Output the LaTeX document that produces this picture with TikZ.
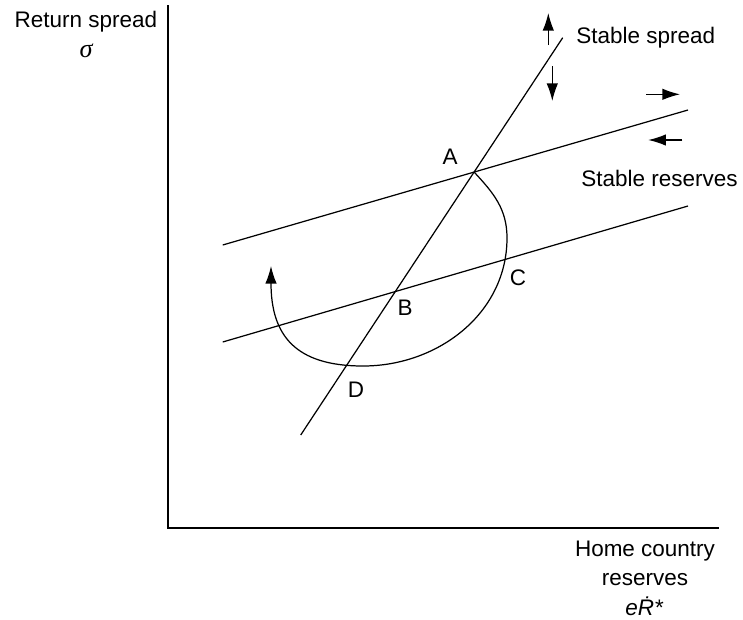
\documentclass[tikz,border=0pt]{standalone}
\usepackage{fontspec}
\setmainfont{Liberation Sans}
\newfontfamily\symbolfont{Liberation Serif}
\usetikzlibrary{arrows.meta}

\begin{document}
\begin{tikzpicture}[x=0.02cm, y=-0.02cm,
  every node/.style={font=\fontsize{12.8}{15}\selectfont, inner sep=0pt},
  axis/.style={line width=1.1pt},
  schedule/.style={line width=0.7pt},
  move/.style={-{Latex[length=10pt,width=6.5pt]}, line width=0.7pt}]
  \useasboundingbox (0,0) rectangle (743,619);
  % axes
  \coordinate (top) at (168.3,5);
  \coordinate (origin) at (168.3,527.7);
  \coordinate (right) at (719,527.7);
  \draw[axis] (top) -- (origin) -- (right);
  \node (ylab) at (86,22) {Return spread};
  \node (sigma) at (86,51) {\fontsize{15}{17}\symbolfont\itshape σ};
  \node (xlab1) at (645,551) {Home country};
  \node (xlab2) at (645,580) {reserves};
  \node (xlab3) at (644,606) {\itshape e\.{R}*};
  % schedules
  \coordinate (spreadLo) at (300.7,435);
  \coordinate (spreadHi) at (562.7,37.7);
  \coordinate (resUpL) at (222.7,245);
  \coordinate (resUpR) at (688,110);
  \coordinate (resLoL) at (222.7,342);
  \coordinate (resLoR) at (688,206);
  \draw[schedule] (spreadLo) -- (spreadHi);
  \draw[schedule] (resUpL) -- (resUpR);
  \draw[schedule] (resLoL) -- (resLoR);
  \node[anchor=west] (spreadlab) at (576,38) {Stable spread};
  \node[anchor=west] (reslab) at (581,178) {Stable reserves};
  % adjustment arrows
  \coordinate (upS) at (548.3,45);   \coordinate (upE) at (548.3,13);
  \coordinate (dnS) at (552.3,66);   \coordinate (dnE) at (552.3,101);
  \coordinate (rtS) at (646,94.3);   \coordinate (rtE) at (680,94.3);
  \coordinate (ltS) at (682.3,140);  \coordinate (ltE) at (648.3,140);
  \draw[move] (upS) -- (upE);
  \draw[move] (dnS) -- (dnE);
  \draw[move] (rtS) -- (rtE);
  \draw[move] (ltS) -- (ltE);
  % path of the economy
  \coordinate (A) at (intersection of spreadLo--spreadHi and resUpL--resUpR);
  \coordinate (east) at (507,238);
  \coordinate (low) at (363,366);
  \coordinate (tip) at (271,266);
  \draw[move] (A) to[out=-47,in=90] (east) to[out=-90,in=0] (low)
    .. controls (295,366) and (271,335) .. (tip);
  \node (Alab) at (450,157) {A};
  \node (Blab) at (405,308) {B};
  \node (Clab) at (518,278) {C};
  \node (Dlab) at (356,390) {D};
\end{tikzpicture}
\end{document}
